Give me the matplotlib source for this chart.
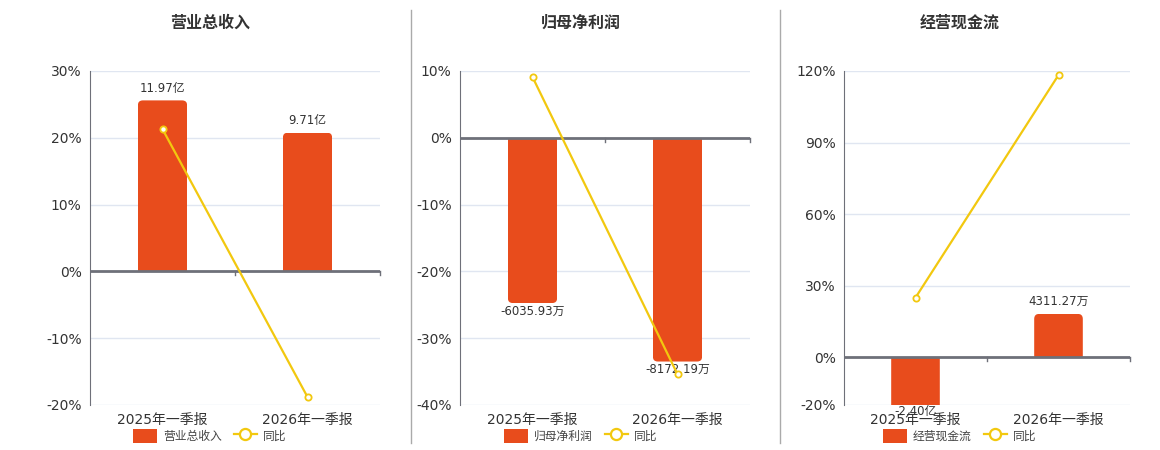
import matplotlib
matplotlib.use("Agg")
import matplotlib.pyplot as plt
from matplotlib.patches import FancyBboxPatch, Patch
from matplotlib.lines import Line2D

plt.rcParams['font.family'] = ['DejaVu Sans', 'Noto Sans CJK SC']

BAR_COLOR = '#E84C1C'
LINE_COLOR = '#F2C80F'
AXIS_COLOR = '#6E7079'
GRID_COLOR = '#E0E6F1'
TEXT_COLOR = '#333333'

categories = ['2025年一季报', '2026年一季报']

# 营业总收入 (亿)
rev_values = [11.97, 9.71]
rev_labels = ['11.97亿', '9.71亿']
rev_yoy = [21.3, -18.8]

# 归母净利润 (万)
np_values = [-6035.93, -8172.19]
np_labels = ['-6035.93万', '-8172.19万']
np_yoy = [9.1, -35.4]

# 经营现金流 (万)
cf_values = [-24000.0, 4311.27]
cf_labels = ['-2.40亿', '4311.27万']
cf_yoy = [25.0, 118.3]

panels = [
    dict(title='营业总收入', values=rev_values, labels=rev_labels, yoy=rev_yoy,
         pct_ticks=[-20, -10, 0, 10, 20, 30], bar_scale=11.97 / 25.6,
         left=90, right=380, center=210),
    dict(title='归母净利润', values=np_values, labels=np_labels, yoy=np_yoy,
         pct_ticks=[-40, -30, -20, -10, 0, 10], bar_scale=244.0,
         left=460, right=750, center=581),
    dict(title='经营现金流', values=cf_values, labels=cf_labels, yoy=cf_yoy,
         pct_ticks=[-20, 0, 30, 60, 90, 120], bar_scale=237.0,
         left=844, right=1130, center=960),
]

W, H = 1160, 450
fig = plt.figure(figsize=(W / 100, H / 100), dpi=100)

top_px, bottom_px = 71, 405

for p in panels:
    rect = [p['left'] / W, 1 - bottom_px / H, (p['right'] - p['left']) / W, (bottom_px - top_px) / H]
    ax = fig.add_axes(rect)
    lo, hi = p['pct_ticks'][0], p['pct_ticks'][-1]
    k = p['bar_scale']
    x = list(range(len(categories)))

    # bars on the primary (hidden) axis, grid behind
    ax.set_xlim(-0.5, len(categories) - 0.5)
    ax.set_ylim(lo * k, hi * k)
    ax.set_yticks([t * k for t in p['pct_ticks']])
    ax.yaxis.grid(True, color=GRID_COLOR, lw=1)
    ax.set_axisbelow(True)
    ax.tick_params(axis='y', length=0, labelleft=False)
    bars = ax.bar(x, p['values'], width=0.34, color=BAR_COLOR, zorder=2)

    # rounded end on each bar via clip path
    px_per_x = (p['right'] - p['left']) / len(categories)
    px_per_y = (bottom_px - top_px) / ((hi - lo) * k)
    for b in bars:
        bx, by, bw, bh = b.get_x(), b.get_y(), b.get_width(), b.get_height()
        ext = abs(bh) * 0.2 + 1
        if bh >= 0:
            y0, hh = by - ext, bh + ext
        else:
            y0, hh = by + bh, -bh + ext
        r = 5 / px_per_x
        clip = FancyBboxPatch((bx, y0), bw, hh, boxstyle=f'round,pad=0,rounding_size={r}',
                              mutation_aspect=px_per_x / px_per_y, transform=ax.transData,
                              facecolor='none', edgecolor='none')
        b.set_clip_path(clip)

    # value labels
    ymin = lo * k
    for xi, v, lab in zip(x, p['values'], p['labels']):
        if v >= 0:
            ax.annotate(lab, (xi, v), xytext=(0, 4), textcoords='offset points',
                        ha='center', va='bottom', fontsize=8.5, color=TEXT_COLOR, zorder=4)
        else:
            yv = max(v, ymin + 1.5 / px_per_y)
            ax.annotate(lab, (xi, yv), xytext=(0, -1), textcoords='offset points',
                        ha='center', va='top', fontsize=8.5, color=TEXT_COLOR, zorder=4,
                        annotation_clip=False)

    # zero line with boundary ticks
    ax.axhline(0, color=AXIS_COLOR, lw=2, zorder=3)
    for bx in [0.5, 1.5]:
        ax.plot([bx, bx], [0, -4 / px_per_y], color=AXIS_COLOR, lw=1, zorder=3, clip_on=False)

    for s in ['top', 'right', 'bottom']:
        ax.spines[s].set_visible(False)
    ax.spines['left'].set_color(AXIS_COLOR)
    ax.set_xticks(x)
    ax.set_xticklabels(categories, fontsize=10, color=TEXT_COLOR)
    ax.tick_params(axis='x', length=0, pad=6)

    # YoY line on twin axis, labels shown on the left
    ax2 = ax.twinx()
    ax2.set_ylim(lo, hi)
    ax2.set_yticks(p['pct_ticks'])
    ax2.set_yticklabels([f'{t}%' for t in p['pct_ticks']], fontsize=10, color=TEXT_COLOR)
    ax2.yaxis.set_ticks_position('left')
    ax2.tick_params(axis='y', length=0, pad=6)
    for s in ['top', 'right', 'bottom', 'left']:
        ax2.spines[s].set_visible(False)
    ax2.plot(x, p['yoy'], color=LINE_COLOR, lw=1.6, marker='o', markersize=4.5,
             markerfacecolor='white', markeredgecolor=LINE_COLOR, markeredgewidth=1.3,
             zorder=5, clip_on=False)

    fig.text(p['center'] / W, 1 - 23 / H, p['title'], ha='center', va='center',
             fontsize=11.5, fontweight='bold', color=TEXT_COLOR)

    handles = [FancyBboxPatch((0, 0), 1, 1, boxstyle='round,pad=0,rounding_size=0.2',
                              facecolor=BAR_COLOR, edgecolor='none'),
               Line2D([], [], color=LINE_COLOR, lw=1.6, marker='o', markersize=8,
                      markerfacecolor='white', markeredgecolor=LINE_COLOR, markeredgewidth=1.6)]
    fig.legend(handles, [p['title'], '同比'], loc='center', ncol=2,
               bbox_to_anchor=(p['center'] / W, 1 - 436 / H), frameon=False,
               fontsize=8.5, labelcolor='#444444', handlelength=2.0, handleheight=1.5,
               columnspacing=1.0, handletextpad=0.5, borderaxespad=0)

# separators between panels
for sx in [411, 780]:
    fig.add_artist(Line2D([sx / W, sx / W], [1 - 443 / H, 1 - 10 / H], color='#AAAAAA', lw=1))

fig.savefig('out.png', dpi=100)
